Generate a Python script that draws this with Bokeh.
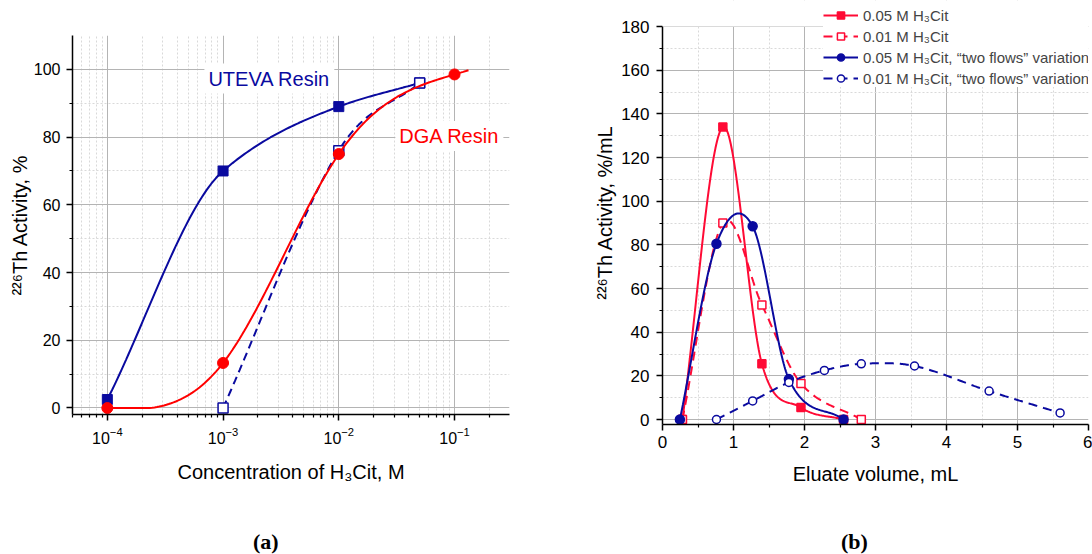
import numpy as np
from bokeh.plotting import figure
from bokeh.layouts import column
from bokeh.models import FixedTicker, Label, Legend, LegendItem, BoxAnnotation, Div
from bokeh.embed import file_html
from bokeh.resources import INLINE

# ---------------- data, panel (a) ----------------
conc_uteva = [1e-4, 1e-3, 1e-2, 5e-2]
act_uteva = [2.5, 70.0, 89.0, 96.0]
conc_dga = [1e-4, 1e-3, 1e-2, 1e-1]
act_dga = [0.0, 13.3, 75.0, 98.5]
conc_uteva_b = [1e-3, 1e-2, 5e-2]
act_uteva_b = [0.0, 76.0, 96.0]
a_x_ticks = [1e-4, 1e-3, 1e-2, 1e-1]
a_y_ticks = [0, 20, 40, 60, 80, 100]
a_y_minor = [10, 30, 50, 70, 90]
a_texts = ["UTEVA Resin", "DGA Resin"]

# ---------------- data, panel (b) ----------------
vol_1 = [0.28, 0.85, 1.40, 1.95, 2.55]
act_1 = [0.0, 134.0, 25.5, 5.5, 0.0]
vol_2 = [0.28, 0.85, 1.40, 1.95, 2.80]
act_2 = [0.0, 90.0, 52.5, 16.5, 0.0]
vol_3 = [0.245, 0.76, 1.27, 1.78, 2.55]
act_3 = [0.0, 80.5, 88.5, 18.5, 0.0]
vol_4 = [0.76, 1.27, 1.78, 2.28, 2.80, 3.55, 4.60, 5.60]
act_4 = [0.0, 8.5, 17.0, 22.5, 25.5, 24.5, 13.0, 3.0]
b_labels = ["0.05 M H\u2083Cit", "0.01 M H\u2083Cit",
            "0.05 M H\u2083Cit, \u201ctwo flows\u201d variation",
            "0.01 M H\u2083Cit, \u201ctwo flows\u201d variation"]
b_x_ticks = [0, 1, 2, 3, 4, 5, 6]
b_x_minor = [0.5, 1.5, 2.5, 3.5, 4.5, 5.5]
b_y_ticks = [0, 20, 40, 60, 80, 100, 120, 140, 160, 180]
b_y_minor = [10, 30, 50, 70, 90, 110, 130, 150, 170]
panel_tags = ["(a)", "(b)"]

RED_A = "#ff0000"
RED_B = "#ff0a35"
BLUE = "#0a0a9f"
FONT = "Liberation Sans"


# ---------------- smooth connecting curves ----------------
def catmull_tangents(xs, ys):
    xs = np.asarray(xs, float); ys = np.asarray(ys, float)
    d = np.diff(ys) / np.diff(xs)
    m = np.zeros(len(xs))
    m[0] = d[0]; m[-1] = d[-1]
    for i in range(1, len(xs) - 1):
        m[i] = (ys[i + 1] - ys[i - 1]) / (xs[i + 1] - xs[i - 1])
    return m


def pchip_tangents(xs, ys):
    xs = np.asarray(xs, float); ys = np.asarray(ys, float)
    h = np.diff(xs); d = np.diff(ys) / h
    m = np.zeros(len(xs))
    m[0] = d[0]; m[-1] = d[-1]
    for i in range(1, len(xs) - 1):
        if d[i - 1] * d[i] <= 0:
            m[i] = 0.0
        else:
            w1 = 2 * h[i] + h[i - 1]; w2 = h[i] + 2 * h[i - 1]
            m[i] = (w1 + w2) / (w1 / d[i - 1] + w2 / d[i])
    return m


def natural_tangents(xs, ys):
    xs = np.asarray(xs, float); ys = np.asarray(ys, float)
    n = len(xs); h = np.diff(xs); d = np.diff(ys) / h
    A = np.zeros((n, n)); b = np.zeros(n)
    A[0, 0] = 1; A[-1, -1] = 1
    for i in range(1, n - 1):
        A[i, i - 1] = h[i - 1]; A[i, i] = 2 * (h[i - 1] + h[i]); A[i, i + 1] = h[i]
        b[i] = 6 * (d[i] - d[i - 1])
    M = np.linalg.solve(A, b)
    m = np.zeros(n)
    for i in range(n - 1):
        m[i] = d[i] - h[i] * (2 * M[i] + M[i + 1]) / 6
    m[-1] = d[-1] + h[-1] * (M[-2] + 2 * M[-1]) / 6
    return m


def hermite(xs, ys, ms, n=50, x_end=None):
    xs = np.asarray(xs, float); ys = np.asarray(ys, float)
    ox, oy = [], []
    segs = len(xs) - 1
    for i in range(segs):
        h = xs[i + 1] - xs[i]
        t_hi = 1.0
        if i == segs - 1 and x_end is not None:
            t_hi = (x_end - xs[i]) / h
        t = np.linspace(0, t_hi, n)
        h00 = 2 * t**3 - 3 * t**2 + 1
        h10 = t**3 - 2 * t**2 + t
        h01 = -2 * t**3 + 3 * t**2
        h11 = t**3 - t**2
        ox.extend(xs[i] + t * h)
        oy.extend(h00 * ys[i] + h10 * h * ms[i] + h01 * ys[i + 1] + h11 * h * ms[i + 1])
    return np.array(ox), np.maximum(np.array(oy), 0.0)


def log_curve(xs, ys, method, x_end=None):
    lx = np.log10(xs)
    cx, cy = hermite(lx, ys, method(lx, ys),
                     x_end=None if x_end is None else np.log10(x_end))
    return 10 ** cx, cy


def style_axes(p, tick_size, label_size):
    for ax in (p.xaxis[0], p.yaxis[0]):
        ax.axis_line_width = 1.5
        ax.axis_line_color = "black"
        ax.major_tick_out = 6
        ax.major_tick_in = 0
        ax.minor_tick_out = 3
        ax.minor_tick_in = 0
        ax.major_tick_line_width = 1.5
        ax.minor_tick_line_width = 1.2
        ax.major_tick_line_color = "black"
        ax.minor_tick_line_color = "black"
        ax.major_label_text_font = FONT
        ax.major_label_text_font_size = tick_size
        ax.major_label_text_color = "black"
        ax.axis_label_text_font = FONT
        ax.axis_label_text_font_size = label_size
        ax.axis_label_text_font_style = "normal"
        ax.axis_label_text_color = "black"
    for g in (p.xgrid[0], p.ygrid[0]):
        g.grid_line_color = "#b4b4b4"
        g.grid_line_width = 1
        g.minor_grid_line_color = "#d9d9d9"
        g.minor_grid_line_dash = "2 2"
        g.minor_grid_line_width = 1
    p.outline_line_color = None


def tag_div(text, left):
    html = ('<div style="box-sizing:border-box;width:546px;padding-left:%dpx;'
            'padding-top:10px;line-height:24px;font-family:\'Liberation Serif\',serif;'
            'font-weight:bold;font-size:22px;color:black;">%s</div>' % (left, text))
    return Div(text=html, width=546, height=34, margin=(0, 0, 0, 0))


# ================= panel (a) =================
A_XMIN, A_XMAX = 5.0e-5, 0.2985
pa = figure(width=546, height=520, x_axis_type="log",
            x_range=(A_XMIN, A_XMAX), y_range=(-1.92, 110),
            output_backend="svg", toolbar_location=None,
            min_border_left=72, min_border_right=37,
            min_border_top=35, min_border_bottom=106, margin=(0, 0, 0, 0))
a_x_minor = [k * 10.0 ** e for e in range(-5, 0) for k in range(2, 10)
             if A_XMIN <= k * 10.0 ** e <= A_XMAX]
pa.xaxis.ticker = FixedTicker(ticks=a_x_ticks, minor_ticks=a_x_minor)
pa.yaxis.ticker = FixedTicker(ticks=a_y_ticks, minor_ticks=a_y_minor)
pa.xaxis.axis_label = "Concentration of H\u2083Cit, M"
pa.yaxis.axis_label = "\u00b2\u00b2\u2076Th Activity, %"
style_axes(pa, "16px", "20px")
pa.xaxis.major_label_standoff = 6
pa.yaxis.major_label_standoff = 6
pa.xaxis.axis_label_standoff = 14
pa.yaxis.axis_label_standoff = 0

cx, cy = log_curve(conc_uteva, act_uteva, pchip_tangents)
pa.line(cx, cy, line_color=BLUE, line_width=2)
pa.scatter(conc_uteva, act_uteva, marker="square", size=10, fill_color=BLUE, line_color=BLUE)

cx, cy = log_curve(conc_uteva_b, act_uteva_b, catmull_tangents)
pa.line(cx, cy, line_color=BLUE, line_width=2, line_dash="8 5")
pa.scatter(conc_uteva_b, act_uteva_b, marker="square", size=10, fill_color="white",
           line_color=BLUE, line_width=1.5)

cx, cy = log_curve(conc_dga, act_dga, natural_tangents, x_end=0.132)
pa.line(cx, cy, line_color=RED_A, line_width=2)
pa.scatter(conc_dga, act_dga, marker="circle", size=11, fill_color=RED_A, line_color=RED_A)

pa.add_layout(Label(x=6.9e-4, y=97.3, text=a_texts[0], text_color=BLUE,
                    text_font=FONT, text_font_size="20px", text_baseline="middle",
                    text_align="left", background_fill_color="white", padding=4))
pa.add_layout(Label(x=0.0308, y=80.3, text=a_texts[1], text_color=RED_A,
                    text_font=FONT, text_font_size="20px", text_baseline="middle",
                    text_align="left", background_fill_color="white", padding=4))

# ================= panel (b) =================
B_YPX = 393.0 / 180.0
B_YTOP = 180 + 26 / B_YPX
B_YBOT = -(424 - 419.0) / B_YPX
pb = figure(width=546, height=520, x_range=(0, 6), y_range=(B_YBOT, B_YTOP),
            output_backend="svg", toolbar_location=None,
            min_border_left=116, min_border_right=4,
            min_border_top=0, min_border_bottom=96, margin=(0, 0, 0, 0))
pb.xaxis.ticker = FixedTicker(ticks=b_x_ticks, minor_ticks=b_x_minor)
pb.yaxis.ticker = FixedTicker(ticks=b_y_ticks, minor_ticks=b_y_minor)
pb.yaxis.bounds = (B_YBOT, 180)
pb.xaxis.axis_label = "Eluate volume, mL"
pb.yaxis.axis_label = "\u00b2\u00b2\u2076Th Activity, %/mL"
style_axes(pb, "17px", "20px")
pb.xaxis.major_label_standoff = 5
pb.yaxis.major_label_standoff = 7
pb.xaxis.axis_label_standoff = 12
pb.yaxis.axis_label_standoff = 2
pb.add_layout(BoxAnnotation(bottom=180, fill_color="white", fill_alpha=1,
                            line_color=None))

items = []
series = [
    (vol_1, act_1, RED_B, None, "square", 8, RED_B),
    (vol_2, act_2, RED_B, "9 6", "square", 8, "white"),
    (vol_3, act_3, BLUE, None, "circle", 9, BLUE),
    (vol_4, act_4, BLUE, "9 6", "circle", 8, "white"),
]
for (vx, vy, col, dash, mk, sz, fill), lab in zip(series, b_labels):
    cx, cy = hermite(vx, vy, catmull_tangents(vx, vy))
    kw = {} if dash is None else {"line_dash": dash}
    lr = pb.line(cx, cy, line_color=col, line_width=2, **kw)
    sr = pb.scatter(vx, vy, marker=mk, size=sz, fill_color=fill, line_color=col,
                    line_width=1.5)
    items.append(LegendItem(label=lab, renderers=[lr, sr]))

legend = Legend(items=items, location=(161, 337), glyph_width=35, glyph_height=18,
                label_height=18, spacing=3, padding=5, margin=0, label_standoff=5,
                label_text_font=FONT, label_text_font_size="15px",
                background_fill_color="white", background_fill_alpha=1,
                border_line_color=None)
pb.add_layout(legend)

# two independent roots, placed side by side (no frame alignment between them)
root_a = column(pa, tag_div(panel_tags[0], 253),
                styles={"position": "absolute", "left": "0px", "top": "0px"})
root_b = column(pb, tag_div(panel_tags[1], 295),
                styles={"position": "absolute", "left": "546px", "top": "0px"})
open("out.html", "w").write(file_html([root_a, root_b], INLINE))
